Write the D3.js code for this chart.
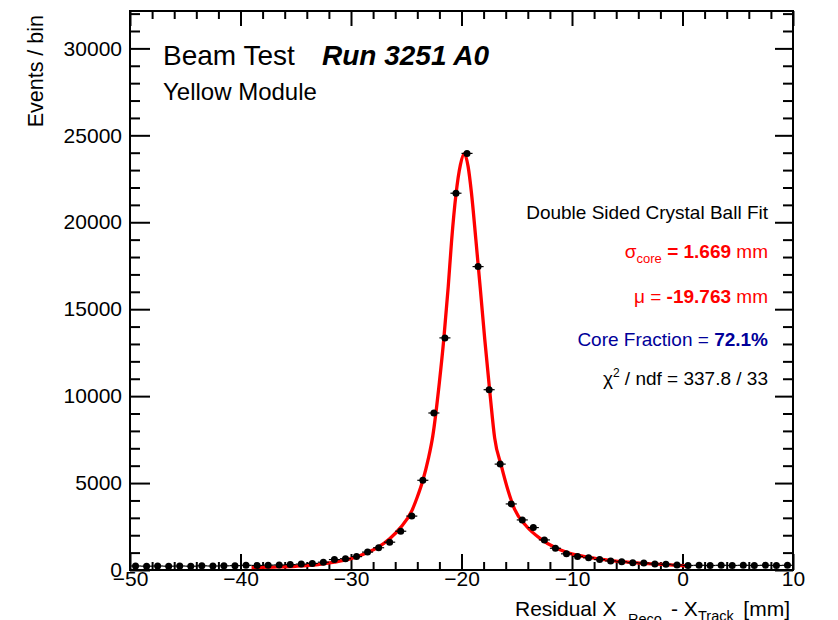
<!DOCTYPE html>
<html>
<head>
<meta charset="utf-8">
<script src="https://cdn.jsdelivr.net/npm/d3@7"></script>
<style>
  html, body { margin: 0; padding: 0; background: #fff; }
  svg { display: block; font-family: "Liberation Sans", Arial, Helvetica, sans-serif; }
</style>
</head>
<body>
<svg id="chart" width="838" height="620"></svg>
<script>
// ---- data ----
const binCenters = [-49.5,-48.5,-47.5,-46.5,-45.5,-44.5,-43.5,-42.5,-41.5,-40.5,
  -39.5,-38.5,-37.5,-36.5,-35.5,-34.5,-33.5,-32.5,-31.5,-30.5,
  -29.5,-28.5,-27.5,-26.5,-25.5,-24.5,-23.5,-22.5,-21.5,-20.5,
  -19.5,-18.5,-17.5,-16.5,-15.5,-14.5,-13.5,-12.5,-11.5,-10.5,
  -9.5,-8.5,-7.5,-6.5,-5.5,-4.5,-3.5,-2.5,-1.5,-0.5,
  0.5,1.5,2.5,3.5,4.5,5.5,6.5,7.5,8.5,9.5];
const counts = [230,220,230,220,230,220,240,230,240,250,
  270,260,280,290,310,340,380,450,600,650,
  770,1030,1280,1600,2230,3100,5160,9030,13350,21670,
  23960,17450,10370,6090,3800,2880,2440,1730,1250,930,
  780,700,600,520,470,420,400,350,330,290,
  260,270,260,270,260,270,260,270,260,270];
const binHalfWidth = 0.5;

// fit curve samples (x, value)
const fitX = [-39.0,-37.0,-35.0,-33.0,-31.5,-30.0,-28.5,-27.5,-26.5,-25.5,-24.5,-24.0,-23.5,-23.0,-22.6,-22.0,-21.6,-21.2,-20.9,-20.5,-20.1,-19.75,-19.4,-19.1,-18.7,-18.3,-17.9,-17.4,-17.0,-16.4,-15.8,-15.2,-14.1,-12.9,-11.4,-10.2,-8.4,-6.9,-4.5,-1.5,0.5];
const fitY = [140,170,215,310,450,650,1000,1330,1800,2450,3400,4200,5150,6400,7700,10800,13300,16300,18900,21600,23300,23950,23200,21700,19000,16200,13300,10000,7600,6000,4600,3500,2500,1820,1250,960,730,580,420,305,230];

const xDomain = [-50, 10];
const yDomain = [0, 32150];
const xMajor = [-50,-40,-30,-20,-10,0,10];
const xMinor = [-48,-46,-44,-42,-38,-36,-34,-32,-28,-26,-24,-22,-18,-16,-14,-12,-8,-6,-4,-2,2,4,6,8];
const yMajor = [0,5000,10000,15000,20000,25000,30000];
const yMinor = [1000,2000,3000,4000,6000,7000,8000,9000,11000,12000,13000,14000,16000,17000,18000,19000,21000,22000,23000,24000,26000,27000,28000,29000,31000,32000];

// ---- layout ----
const L = 130, R = 793, T = 11, B = 570;
const svg = d3.select("#chart");
const x = d3.scaleLinear().domain(xDomain).range([L, R]);
const y = d3.scaleLinear().domain(yDomain).range([B, T]);
const fontSize = 21;

function styleAxis(g) {
  g.select(".domain").remove();
  g.selectAll(".tick line").attr("stroke", "#000").attr("stroke-width", 2);
  g.selectAll(".tick text").attr("fill", "#000").attr("font-size", fontSize)
    .attr("font-family", "Liberation Sans, Arial, sans-serif");
}

// bottom axis
svg.append("g").attr("transform", `translate(0,${B})`)
  .call(d3.axisBottom(x).tickValues(xMajor).tickSize(-16).tickPadding(1).tickFormat(d3.format("d")))
  .call(styleAxis);
svg.append("g").attr("transform", `translate(0,${B})`)
  .call(d3.axisBottom(x).tickValues(xMinor).tickSize(-8).tickFormat(""))
  .call(styleAxis);
// top axis
svg.append("g").attr("transform", `translate(0,${T})`)
  .call(d3.axisTop(x).tickValues(xMajor).tickSize(-15).tickFormat(""))
  .call(styleAxis);
svg.append("g").attr("transform", `translate(0,${T})`)
  .call(d3.axisTop(x).tickValues(xMinor).tickSize(-8).tickFormat(""))
  .call(styleAxis);
// left axis
svg.append("g").attr("transform", `translate(${L},0)`)
  .call(d3.axisLeft(y).tickValues(yMajor).tickSize(-20).tickPadding(8).tickFormat(d3.format("d")))
  .call(styleAxis);
svg.append("g").attr("transform", `translate(${L},0)`)
  .call(d3.axisLeft(y).tickValues(yMinor).tickSize(-10).tickFormat(""))
  .call(styleAxis);
// right axis
svg.append("g").attr("transform", `translate(${R},0)`)
  .call(d3.axisRight(y).tickValues(yMajor).tickSize(-18).tickFormat(""))
  .call(styleAxis);
svg.append("g").attr("transform", `translate(${R},0)`)
  .call(d3.axisRight(y).tickValues(yMinor).tickSize(-10).tickFormat(""))
  .call(styleAxis);

// frame
svg.append("rect").attr("x", L).attr("y", T).attr("width", R - L).attr("height", B - T)
  .attr("fill", "none").attr("stroke", "#000").attr("stroke-width", 2);

// data: horizontal error bars + markers
const pts = binCenters.map((c, i) => ({c, v: counts[i]}));
const gData = svg.append("g");
gData.selectAll("line.err").data(pts).join("line")
  .attr("x1", d => x(d.c - binHalfWidth)).attr("x2", d => x(d.c + binHalfWidth))
  .attr("y1", d => y(d.v)).attr("y2", d => y(d.v))
  .attr("stroke", "#000").attr("stroke-width", 1.2);

// fit curve
const fitPts = fitX.map((fx, i) => [fx, fitY[i]]);
svg.append("path").datum(fitPts)
  .attr("d", d3.line().x(d => x(d[0])).y(d => y(d[1])).curve(d3.curveMonotoneX))
  .attr("fill", "none").attr("stroke", "#ff0000").attr("stroke-width", 3.3)
  .attr("stroke-linejoin", "round");

gData.raise();
gData.selectAll("circle").data(pts).join("circle")
  .attr("cx", d => x(d.c)).attr("cy", d => y(d.v)).attr("r", 3.5).attr("fill", "#000");

// axis titles
svg.append("text").attr("transform", "translate(43,15) rotate(-90)")
  .attr("text-anchor", "end").attr("font-size", 21.5).text("Events / bin");

const xtY = 616;
const xt = svg.append("g").attr("font-size", fontSize);
xt.append("text").attr("x", 515).attr("y", xtY).text("Residual X");
xt.append("text").attr("x", 628).attr("y", xtY + 8).attr("font-size", 14.5).text("Reco");
xt.append("text").attr("x", 671).attr("y", xtY).text("- X");
xt.append("text").attr("x", 698).attr("y", xtY + 5).attr("font-size", 14.5).text("Track");
xt.append("text").attr("x", 790).attr("y", xtY).attr("text-anchor", "end").text("[mm]");

// labels inside plot
const t1 = svg.append("text").attr("x", 163).attr("y", 65).attr("font-size", 28);
t1.append("tspan").text("Beam Test");
t1.append("tspan").attr("x", 322).attr("font-weight", "bold").attr("font-style", "italic").text("Run 3251 A0");
svg.append("text").attr("x", 163).attr("y", 100).attr("font-size", 24).text("Yellow Module");

const rx = 768, fs2 = 19;
svg.append("text").attr("x", rx).attr("y", 219).attr("text-anchor", "end").attr("font-size", fs2)
  .text("Double Sided Crystal Ball Fit");

const s1 = svg.append("text").attr("x", rx).attr("y", 258).attr("text-anchor", "end").attr("font-size", fs2).attr("fill", "#ff0000");
s1.append("tspan").text("σ");
s1.append("tspan").attr("font-size", 13).attr("dy", 5).text("core");
s1.append("tspan").attr("dy", -5).attr("font-weight", "bold").text(" = 1.669");
s1.append("tspan").text(" mm");

const s2 = svg.append("text").attr("x", rx).attr("y", 303).attr("text-anchor", "end").attr("font-size", fs2).attr("fill", "#ff0000");
s2.append("tspan").text("μ = ");
s2.append("tspan").attr("font-weight", "bold").text("-19.763");
s2.append("tspan").text(" mm");

const s3 = svg.append("text").attr("x", rx).attr("y", 346).attr("text-anchor", "end").attr("font-size", fs2).attr("fill", "#000099");
s3.append("tspan").text("Core Fraction = ");
s3.append("tspan").attr("font-weight", "bold").text("72.1%");

const s4 = svg.append("text").attr("x", rx).attr("y", 385).attr("text-anchor", "end").attr("font-size", fs2).attr("fill", "#000");
s4.append("tspan").text("χ");
s4.append("tspan").attr("font-size", 12).attr("dy", -8).text("2");
s4.append("tspan").attr("dy", 8).text(" / ndf = 337.8 / 33");
</script>
</body>
</html>
